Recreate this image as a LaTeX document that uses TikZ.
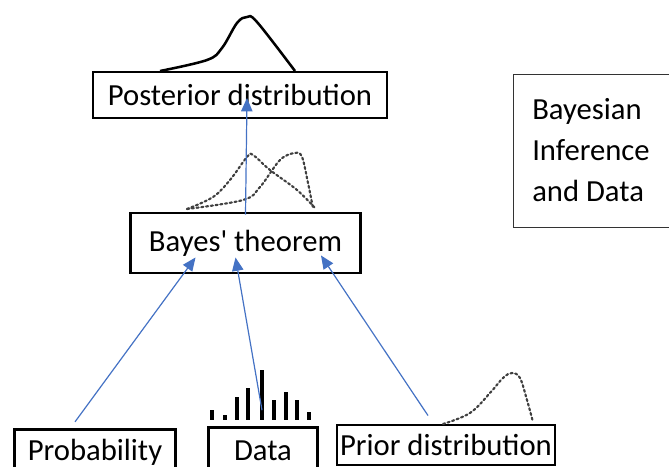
\documentclass[tikz,border=0pt]{standalone}
\usepackage{fontspec}
\setmainfont{Carlito}
\usetikzlibrary{arrows.meta,calc}
\definecolor{arrowblue}{RGB}{68,114,196}
\tikzset{
  databox/.style={draw=black, line width=2.2pt, inner sep=0pt, font=\fontsize{23}{31}\selectfont},
  link/.style={arrowblue, line width=0.9pt, -{Triangle[length=10pt,width=8.5pt]}},
  densecurve/.style={black!75, line width=1.6pt, dotted, line cap=round}
}
\begin{document}
\begin{tikzpicture}[x=0.75pt, y=-0.75pt]

\useasboundingbox (0,0) rectangle (669,467);

% boxes
\node[databox, minimum width=220.5pt, minimum height=34.5pt] (post) at (240,95) {Posterior distribution};
\node[databox, minimum width=173pt, minimum height=45pt] (bayes) at (245.5,243) {Bayes\textquotesingle{} theorem};
\node[databox, minimum width=120.5pt, minimum height=34pt] (prob) at (95,452) {Probability};
\node[databox, minimum width=82pt, minimum height=35pt] (data) at (263,451) {Data};
\node[databox, minimum width=163.5pt, minimum height=30pt] (prior) at (446,445) {Prior distribution};

% side note
\draw[black!80, line width=0.6pt] (513,74) rectangle (690,227);
\node[anchor=west, align=flush left, inner sep=0pt, font=\fontsize{23}{31}\selectfont] (note) at (532,150)
  {Bayesian\\Inference\\and Data};

% posterior curve
\draw[black, line width=1.9pt, line join=round] plot[smooth, tension=0.6] coordinates
  {(160,71) (207,60) (222,48) (237,23) (247,17) (257,22) (295,71)};

% two curves above Bayes' theorem
\draw[densecurve] plot[smooth, tension=0.6] coordinates
  {(187,209) (213,197) (230,180) (247,157) (253,155) (270,170) (297,190) (315,208)};
\draw[densecurve] plot[smooth, tension=0.6] coordinates
  {(187,209) (243,200) (260,187) (280,160) (295,153) (302,157) (308,183) (313,208)};

% prior curve
\draw[densecurve] plot[smooth, tension=0.6] coordinates
  {(443,424) (470,413) (490,393) (503,378) (512,373) (520,378) (527,400) (533,422)};

% data bars
\foreach \bx/\by in {212/410, 225/415, 237/397, 248/388, 262/370, 274/400, 286/392, 297/400, 309/412}
  \fill[black] (\bx-2.3,420) rectangle (\bx+2.3,\by);

% arrows
\draw[link] ($(prob.north)+(-20,-6)$) -- ($(bayes.south)+(-50,-17)$);
\draw[link] ($(data.north)+(-1,-16)$) -- ($(bayes.south)+(-10,-17)$);
\draw[link] ($(prior.north)+(-18,-8)$) -- ($(bayes.south)+(75.5,-19)$);
\draw[link] ($(bayes.north)+(0,3)$) -- ($(post.center)+(7,3)$);

\end{tikzpicture}
\end{document}
